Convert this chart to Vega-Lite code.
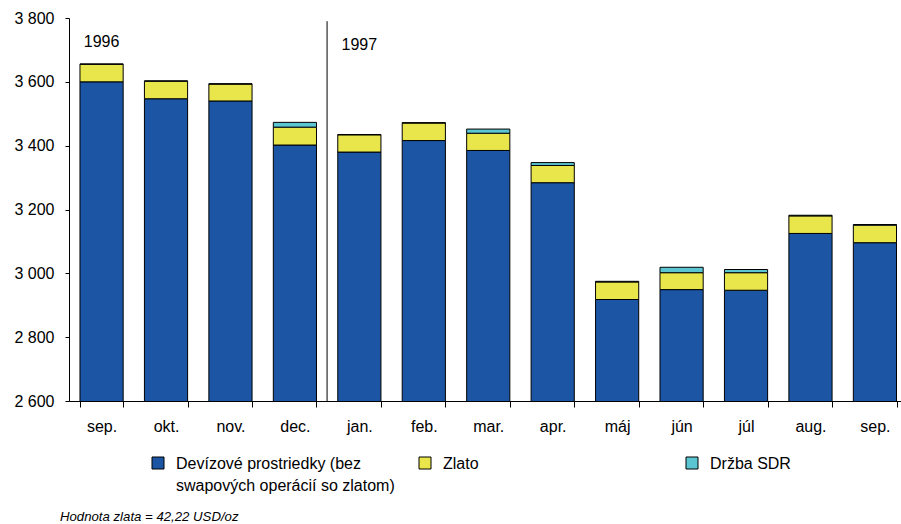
{
  "$schema": "https://vega.github.io/schema/vega-lite/v6.json",
  "width": 832,
  "height": 383,
  "autosize": {"type": "none"},
  "padding": {"left": 69, "top": 18, "right": 0, "bottom": 123},
  "background": "white",
  "config": {"font": "Liberation Sans", "view": {"stroke": null}},
  "datasets": {
    "reserves": [
      {"month": "1996-09", "type": "Devízové prostriedky", "ord": 1, "value": 3600},
      {"month": "1996-09", "type": "Zlato", "ord": 2, "value": 55},
      {"month": "1996-09", "type": "Držba SDR", "ord": 3, "value": 1},
      {"month": "1996-10", "type": "Devízové prostriedky", "ord": 1, "value": 3547},
      {"month": "1996-10", "type": "Zlato", "ord": 2, "value": 55},
      {"month": "1996-10", "type": "Držba SDR", "ord": 3, "value": 1},
      {"month": "1996-11", "type": "Devízové prostriedky", "ord": 1, "value": 3540},
      {"month": "1996-11", "type": "Zlato", "ord": 2, "value": 53},
      {"month": "1996-11", "type": "Držba SDR", "ord": 3, "value": 1},
      {"month": "1996-12", "type": "Devízové prostriedky", "ord": 1, "value": 3402},
      {"month": "1996-12", "type": "Zlato", "ord": 2, "value": 56},
      {"month": "1996-12", "type": "Držba SDR", "ord": 3, "value": 15},
      {"month": "1997-01", "type": "Devízové prostriedky", "ord": 1, "value": 3380},
      {"month": "1997-01", "type": "Zlato", "ord": 2, "value": 54},
      {"month": "1997-01", "type": "Držba SDR", "ord": 3, "value": 1},
      {"month": "1997-02", "type": "Devízové prostriedky", "ord": 1, "value": 3416},
      {"month": "1997-02", "type": "Zlato", "ord": 2, "value": 55},
      {"month": "1997-02", "type": "Držba SDR", "ord": 3, "value": 1},
      {"month": "1997-03", "type": "Devízové prostriedky", "ord": 1, "value": 3385},
      {"month": "1997-03", "type": "Zlato", "ord": 2, "value": 54},
      {"month": "1997-03", "type": "Držba SDR", "ord": 3, "value": 13},
      {"month": "1997-04", "type": "Devízové prostriedky", "ord": 1, "value": 3284},
      {"month": "1997-04", "type": "Zlato", "ord": 2, "value": 54},
      {"month": "1997-04", "type": "Držba SDR", "ord": 3, "value": 9},
      {"month": "1997-05", "type": "Devízové prostriedky", "ord": 1, "value": 2918},
      {"month": "1997-05", "type": "Zlato", "ord": 2, "value": 55},
      {"month": "1997-05", "type": "Držba SDR", "ord": 3, "value": 2},
      {"month": "1997-06", "type": "Devízové prostriedky", "ord": 1, "value": 2949},
      {"month": "1997-06", "type": "Zlato", "ord": 2, "value": 53},
      {"month": "1997-06", "type": "Držba SDR", "ord": 3, "value": 17},
      {"month": "1997-07", "type": "Devízové prostriedky", "ord": 1, "value": 2947},
      {"month": "1997-07", "type": "Zlato", "ord": 2, "value": 55},
      {"month": "1997-07", "type": "Držba SDR", "ord": 3, "value": 10},
      {"month": "1997-08", "type": "Devízové prostriedky", "ord": 1, "value": 3125},
      {"month": "1997-08", "type": "Zlato", "ord": 2, "value": 55},
      {"month": "1997-08", "type": "Držba SDR", "ord": 3, "value": 2},
      {"month": "1997-09", "type": "Devízové prostriedky", "ord": 1, "value": 3096},
      {"month": "1997-09", "type": "Zlato", "ord": 2, "value": 55},
      {"month": "1997-09", "type": "Držba SDR", "ord": 3, "value": 2}
    ],
    "divider": [{"month": "1997-01", "top": 3790, "bottom": 2600}],
    "years": [
      {"month": "1996-09", "y": 3725, "label": "1996"},
      {"month": "1997-01", "y": 3716, "label": "1997"}
    ]
  },
  "layer": [
    {
      "data": {"name": "reserves"},
      "mark": {"type": "bar", "stroke": "black", "strokeWidth": 1, "clip": true},
      "encoding": {
        "x": {
          "field": "month",
          "type": "nominal",
          "scale": {
            "domain": ["1996-09","1996-10","1996-11","1996-12","1997-01","1997-02","1997-03","1997-04","1997-05","1997-06","1997-07","1997-08","1997-09"],
            "paddingInner": 0.33,
            "paddingOuter": 0.12,
            "align": 0.71
          },
          "axis": {
            "title": null,
            "labelExpr": "{'1996-09':'sep.','1996-10':'okt.','1996-11':'nov.','1996-12':'dec.','1997-01':'jan.','1997-02':'feb.','1997-03':'mar.','1997-04':'apr.','1997-05':'máj','1997-06':'jún','1997-07':'júl','1997-08':'aug.','1997-09':'sep.'}[datum.value]",
            "tickBand": "extent",
            "domainColor": "black",
            "tickColor": "black",
            "tickSize": 6,
            "labelPadding": 11,
            "labelFontSize": 16,
            "labelAngle": 0,
            "labelColor": "black"
          }
        },
        "y": {
          "field": "value",
          "type": "quantitative",
          "stack": "zero",
          "scale": {"domain": [2600, 3800], "zero": false, "nice": false},
          "axis": {
            "title": null,
            "values": [2600, 2800, 3000, 3200, 3400, 3600, 3800],
            "labelExpr": "replace(format(datum.value, ','), ',', ' ')",
            "grid": false,
            "domainColor": "black",
            "tickColor": "black",
            "labelColor": "black",
            "labelFontSize": 16,
            "tickSize": 4,
            "labelPadding": 11
          }
        },
        "color": {
          "field": "type",
          "type": "nominal",
          "scale": {
            "domain": ["Devízové prostriedky", "Zlato", "Držba SDR"],
            "range": ["#1b55a3", "#e8e64b", "#5bc6d2"]
          },
          "legend": {
            "title": null,
            "orient": "none",
            "legendX": 81,
            "legendY": 437,
            "direction": "horizontal",
            "columns": 3,
            "gridAlign": "all",
            "columnPadding": 22,
            "symbolType": "square",
            "symbolSize": 144,
            "symbolStrokeColor": "black",
            "symbolStrokeWidth": 1,
            "symbolOpacity": 1,
            "labelFontSize": 16,
            "labelOffset": 10,
            "labelLimit": 400,
            "labelColor": "black",
            "labelBaseline": "top",
            "labelExpr": "datum.label == 'Devízové prostriedky' ? ['Devízové prostriedky (bez', 'swapových operácií so zlatom)'] : [datum.label, ' ']",
            "encode": {"labels": {"update": {"dy": {"value": -7}, "lineHeight": {"value": 22}}}}
          }
        },
        "order": {"field": "ord", "type": "quantitative"}
      }
    },
    {
      "data": {"name": "divider"},
      "mark": {"type": "rule", "color": "black", "strokeWidth": 1, "xOffset": -10.7},
      "encoding": {
        "x": {"field": "month", "type": "nominal", "bandPosition": 0},
        "y": {"field": "top", "type": "quantitative"},
        "y2": {"field": "bottom"}
      }
    },
    {
      "data": {"name": "years"},
      "mark": {"type": "text", "fontSize": 16, "align": "center", "baseline": "middle", "color": "black"},
      "encoding": {
        "x": {"field": "month", "type": "nominal"},
        "y": {"field": "y", "type": "quantitative"},
        "text": {"field": "label"}
      }
    }
  ],
  "title": {
    "text": "Hodnota zlata = 42,22 USD/oz",
    "orient": "bottom",
    "anchor": "start",
    "frame": "group",
    "fontSize": 13.2,
    "fontStyle": "italic",
    "fontWeight": "normal",
    "color": "black",
    "offset": 17,
    "dx": -9
  }
}
